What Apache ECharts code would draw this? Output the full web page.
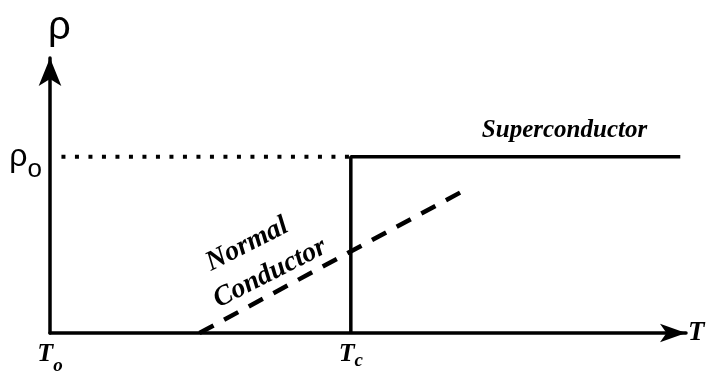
<!DOCTYPE html>
<html>
<head>
<meta charset="utf-8">
<script src="https://cdn.jsdelivr.net/npm/echarts@6/dist/echarts.min.js"></script>
<style>
  html, body { margin: 0; padding: 0; background: #fff; }
  #chart { width: 712px; height: 373px; }
</style>
</head>
<body>
<div id="chart"></div>
<script>
// arbitrary units: T axis 0..100, rho axis 0..100
const xMax = 100;
const yMax = 100;
const Tc = 47.3;
const rho0 = 64.1;
const superLine = [[Tc, 0], [Tc, rho0], [99.1, rho0]];
const dottedLine = [[1.8, rho0], [Tc, rho0]];
const normalLine = [[23.5, 0], [65.4, 52.2]];
const xTickValues = [0, Tc];
const xTickLabels = ['{t|T}{o|o}', '{t|T}{c|c}'];
const yTickValues = [rho0];
const yTickLabels = ['{r|ρ}{s|o}'];
const textLabels = [
  { value: [80.9, 73.5], text: 'Superconductor', rotate: 0, size: 25 },
  { value: [31.0, 32.2], text: 'Normal', rotate: 27, size: 28 },
  { value: [34.6, 21.7], text: 'Conductor', rotate: 27, size: 28 },
];

const serif = '"Liberation Serif", "Times New Roman", serif';
const sans = '"Liberation Sans", Arial, sans-serif';
const bi = { fontFamily: serif, fontStyle: 'italic', fontWeight: 'bold', color: '#000', verticalAlign: 'top' };

const chart = echarts.init(document.getElementById('chart'));
chart.setOption({
  animation: false,
  grid: { left: 50, right: 26, top: 58, bottom: 40, outerBoundsMode: 'none', containLabel: false },
  xAxis: {
    type: 'value',
    min: 0,
    max: xMax,
    name: 'T',
    nameLocation: 'end',
    nameGap: 2,
    nameTextStyle: { fontFamily: serif, fontStyle: 'italic', fontWeight: 'bold', fontSize: 27, color: '#000' },
    axisLine: {
      show: true,
      symbol: ['none', 'arrow'],
      symbolSize: [14, 26],
      symbolOffset: [0, 0],
      lineStyle: { color: '#000', width: 3.5 },
    },
    axisTick: { show: false },
    splitLine: { show: false },
    axisLabel: {
      customValues: xTickValues,
      margin: 8,
      formatter: (v) => xTickLabels[xTickValues.indexOf(v)] || '',
      rich: {
        t: Object.assign({ fontSize: 26 }, bi),
        o: Object.assign({ fontSize: 19, padding: [16, 0, 0, 0] }, bi),
        c: Object.assign({ fontSize: 19, padding: [11, 0, 0, 0] }, bi),
      },
    },
  },
  yAxis: {
    type: 'value',
    min: 0,
    max: yMax,
    name: 'ρ',
    nameLocation: 'end',
    nameGap: 10,
    nameTextStyle: { fontFamily: sans, fontSize: 40, color: '#000', align: 'left', padding: [0, 0, 0, -2] },
    axisLine: {
      show: true,
      symbol: ['none', 'arrow'],
      symbolSize: [17, 28],
      symbolOffset: [0, 0],
      lineStyle: { color: '#000', width: 3.5 },
    },
    axisTick: { show: false },
    splitLine: { show: false },
    axisLabel: {
      customValues: yTickValues,
      margin: 8,
      formatter: (v) => yTickLabels[yTickValues.indexOf(v)] || '',
      rich: {
        r: { fontFamily: sans, fontSize: 32, color: '#000' },
        s: { fontFamily: sans, fontSize: 26, color: '#000', padding: [26, 0, 0, 0] },
      },
    },
  },
  series: [
    {
      name: 'Superconductor',
      type: 'line',
      data: superLine,
      symbol: 'none',
      clip: false,
      lineStyle: { color: '#000', width: 3.5 },
    },
    {
      name: 'rho0',
      type: 'line',
      data: dottedLine,
      symbol: 'none',
      lineStyle: { color: '#000', width: 4, type: [4, 9.5] },
    },
    {
      name: 'Normal Conductor',
      type: 'line',
      data: normalLine,
      symbol: 'none',
      lineStyle: { color: '#000', width: 4.5, type: [16, 12] },
    },
    {
      name: 'labels',
      type: 'scatter',
      symbolSize: 0,
      silent: true,
      data: textLabels.map((d) => ({
        value: d.value,
        label: {
          show: true,
          position: 'inside',
          formatter: d.text,
          rotate: d.rotate,
          fontFamily: serif,
          fontStyle: 'italic',
          fontWeight: 'bold',
          fontSize: d.size,
          color: '#000',
          textBorderWidth: 0,
          opacity: 1,
        },
      })),
    },
  ],
});
</script>
</body>
</html>
